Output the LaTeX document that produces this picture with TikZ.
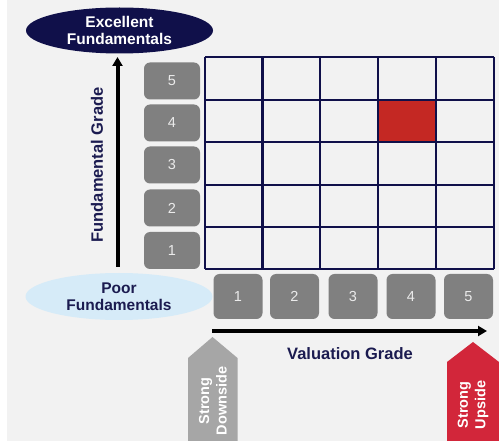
\documentclass[tikz,border=0pt]{standalone}
\usepackage{fontspec}
\setmainfont{Liberation Sans}
\usetikzlibrary{arrows.meta,shapes.geometric}
\definecolor{bg}{HTML}{F2F2F2}
\definecolor{navy}{HTML}{10104A}
\definecolor{labelnavy}{HTML}{1B1B50}
\definecolor{gradegray}{HTML}{808080}
\definecolor{cellred}{HTML}{C42823}
\definecolor{paleblue}{HTML}{D6EBF8}
\definecolor{downgray}{HTML}{A6A6A6}
\definecolor{upred}{HTML}{D2263A}
\tikzset{
  gradebox/.style={fill=gradegray, rounded corners=6pt, inner sep=0pt,
    text=white!92!black, font=\fontsize{14.5}{16}\selectfont},
  vgrade/.style={gradebox, minimum width=56pt, minimum height=37pt},
  hgrade/.style={gradebox, minimum width=49pt, minimum height=45pt},
  pole/.style={ellipse, inner sep=0pt, minimum width=187pt, minimum height=46pt,
    align=center, font=\bfseries\fontsize{15.5}{16.5}\selectfont},
  axislabel/.style={text=labelnavy, font=\bfseries\fontsize{16.5}{18}\selectfont},
  axisarrow/.style={line width=4pt, -{Triangle[length=9pt,width=10pt]}},
  tagtext/.style={rotate=90, align=center, text=white,
    font=\bfseries\fontsize{14.5}{17.5}\selectfont},
  gridline/.style={navy, line width=2.4pt}
}
\begin{document}
\begin{tikzpicture}[x=1pt,y=-1pt]
\useasboundingbox (0,0) rectangle (499,441);
\fill[bg] (7,0) rectangle (499,441);

% matrix of fundamental vs valuation grades
\fill[cellred] (378,100) rectangle (436,142);
\foreach \gx in {205,262.5,320,378,436,494}
  \draw[gridline] (\gx,57) -- (\gx,269);
\foreach \gy in {57,100,142,185,227,269}
  \draw[gridline] (205,\gy) -- (494,\gy);

% fundamental grade boxes
\node[vgrade] (f5) at (172,81) {5};
\node[vgrade] (f4) at (172,123) {4};
\node[vgrade] (f3) at (172,165) {3};
\node[vgrade] (f2) at (172,208) {2};
\node[vgrade] (f1) at (172,250.5) {1};

% valuation grade boxes
\node[hgrade] (v1) at (238,296.5) {1};
\node[hgrade] (v2) at (294.5,296.5) {2};
\node[hgrade] (v3) at (353,296.5) {3};
\node[hgrade] (v4) at (411,296.5) {4};
\node[hgrade] (v5) at (468.5,296.5) {5};

% poles of the fundamental axis
\node[pole, fill=navy, text=white] (top) at (119.5,30.5) {Excellent\\Fundamentals};
\node[pole, fill=paleblue, text=labelnavy, minimum height=47pt] (bottom) at (119,296.5) {Poor\\Fundamentals};

% axes
\coordinate (ybase) at (117.5,267);
\coordinate (ytip) at (117.5,57);
\draw[axisarrow] (ybase) -- (ytip);
\node[axislabel, rotate=90] (ylabel) at (97,165) {Fundamental Grade};

\coordinate (xbase) at (212,331);
\coordinate (xtip) at (487,331);
\draw[axisarrow] (xbase) -- (xtip);
\node[axislabel] (xlabel) at (350,354) {Valuation Grade};

% downside / upside tags
\fill[downgray] (188,441) -- (188,358) -- (212.5,337) -- (237.5,358) -- (237.5,441) -- cycle;
\node[tagtext] (down) at (213,401) {Strong\\Downside};
\fill[upred] (447,441) -- (447,362) -- (473,342) -- (499,362) -- (499,441) -- cycle;
\node[tagtext] (up) at (473,405) {Strong\\Upside};
\end{tikzpicture}
\end{document}
